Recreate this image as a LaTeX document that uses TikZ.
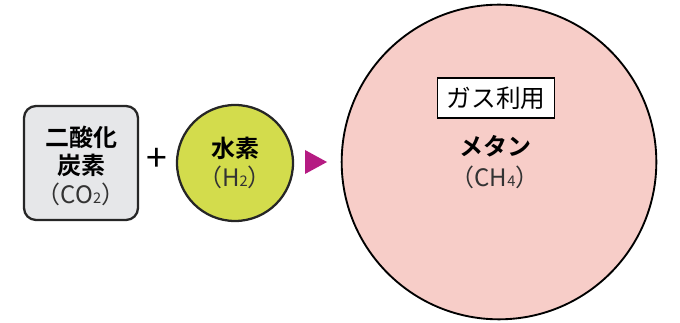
\documentclass[tikz,border=0pt]{standalone}
\usepackage{fontspec}
\newfontfamily\jp{Noto Sans CJK JP}
\newfontfamily\jpb{Noto Sans CJK JP Bold}
\definecolor{boxgray}{HTML}{E6E7E9}
\definecolor{hgreen}{HTML}{D3DC4C}
\definecolor{mpink}{HTML}{F7CDC8}
\definecolor{arrowmag}{HTML}{B51B82}
\definecolor{txtgray}{HTML}{333333}
\tikzset{
  bold/.style={font=\jpb\fontsize{18}{21}\selectfont, text=black},
  formula/.style={font=\jp\fontsize{18}{21}\selectfont, text=txtgray},
}
\newcommand{\sbs}[1]{{\fontsize{11}{11}\selectfont #1}}
\begin{document}
\begin{tikzpicture}[x=0.75pt,y=-0.75pt]
\useasboundingbox (0,0) rectangle (680,323);
% CO2 box
\node[draw=black!85, line width=1.7pt, fill=boxgray, rounded corners=9pt,
  minimum width=85.5pt, minimum height=85.5pt] (co2) at (81,163) {};
\node[bold] (co2a) at (81,137) {二酸化};
\node[bold] (co2b) at (81,165) {炭素};
\node[formula] (co2c) at (81,194) {（CO\sbs{2}）};
% plus
\node[font=\jp\fontsize{28}{28}\selectfont] (plus) at (157,160) {+};
% H2 circle
\node[circle, draw=black!85, line width=1.7pt, fill=hgreen, minimum size=87pt, inner sep=0] (h2) at (235,163) {};
\node[bold] (h2a) at (235,148) {水素};
\node[formula] (h2b) at (235,177) {（H\sbs{2}）};
% arrow
\coordinate (tri) at (315,162);
\fill[arrowmag] (305,150) -- (327,162) -- (305,174) -- cycle;
% methane circle
\node[circle, draw=black, line width=1.4pt, fill=mpink, minimum size=236pt, inner sep=0] (ch4) at (499,162) {};
\node[draw=black, line width=1.1pt, fill=white, minimum width=88pt, minimum height=30pt, font=\jp\fontsize{18.5}{21}\selectfont] (gas) at (496,98) {ガス利用};
\node[bold] (me) at (495,146) {メタン};
\node[formula] (ch4t) at (495,177) {（CH\sbs{4}）};
\end{tikzpicture}
\end{document}
